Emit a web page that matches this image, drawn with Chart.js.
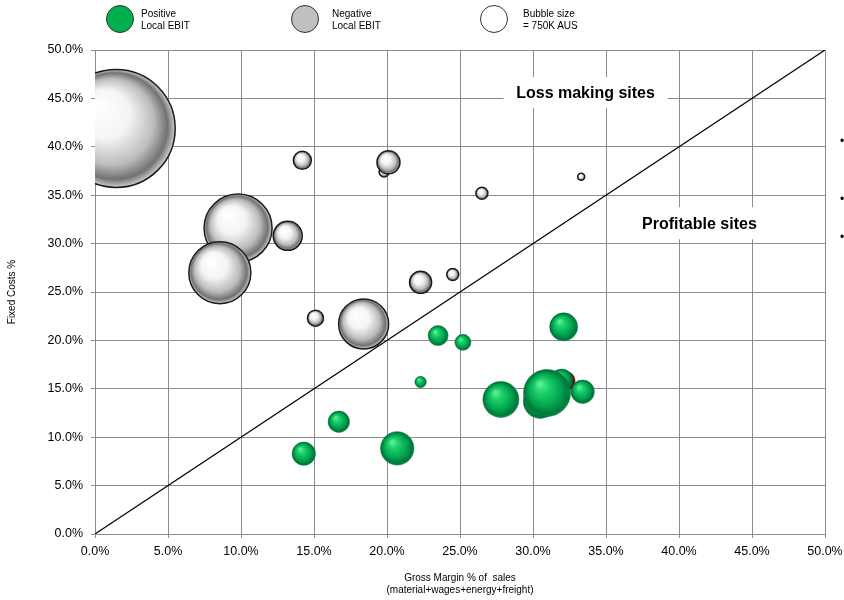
<!DOCTYPE html>
<html>
<head>
<meta charset="utf-8">
<script src="https://cdn.jsdelivr.net/npm/chart.js@4.4.1/dist/chart.umd.min.js"></script>
<style>
  html, body { margin: 0; padding: 0; background: #fff; }
  body { width: 844px; height: 600px; position: relative; overflow: hidden; font-family: "Liberation Sans", Arial, sans-serif; }
  #wrap { position: absolute; left: 0; top: 0; width: 844px; height: 600px; }
  .key { position: absolute; top: 5px; width: 28px; height: 28px; border-radius: 50%; border: 1px solid #333; box-sizing: border-box; }
  .keytext { position: absolute; top: 8px; font-size: 10px; line-height: 11.5px; color: #000; }
  .bullet { position: absolute; left: 840px; font-size: 12px; line-height: 12px; color: #000; }
</style>
</head>
<body>
<div id="wrap"><canvas id="chart" width="844" height="600"></canvas></div>

<div class="key" style="left:106px; background:#00b050;"></div>
<div class="keytext" style="left:141px;">Positive<br>Local EBIT</div>
<div class="key" style="left:291px; background:#c0c0c0;"></div>
<div class="keytext" style="left:332px;">Negative<br>Local EBIT</div>
<div class="key" style="left:480px; background:#ffffff;"></div>
<div class="keytext" style="left:523px;">Bubble size<br>= 750K AUS</div>

<div class="bullet" style="top:135px;">•</div>
<div class="bullet" style="top:193px;">•</div>
<div class="bullet" style="top:231px;">•</div>

<script>
// gross margin % (x), fixed costs % (y), bubble size
const negX = [1.45, 14.2, 19.8, 20.1, 9.8, 13.2, 8.55, 22.3, 15.1, 18.4, 26.5, 33.3, 24.5];
const negY = [41.9, 38.6, 37.4, 38.4, 31.6, 30.8, 27.0, 26.0, 22.3, 21.7, 35.2, 36.9, 26.8];
const negSize = [59, 9, 5, 11.5, 34, 14.5, 31, 11, 8, 25, 6, 3.5, 6];

const posX = [23.5, 25.2, 32.1, 22.3, 27.8, 14.3, 16.7, 20.7, 31.96, 30.5, 30.96, 33.4];
const posY = [20.5, 19.8, 21.4, 15.7, 13.9, 8.3, 11.6, 8.85, 15.9, 13.7, 14.57, 14.7];
const posSize = [10, 8, 14, 5.7, 18, 11.7, 10.7, 16.7, 11, 17, 23.5, 11.7];

const otherX = [32.2];
const otherY = [15.8];
const otherSize = [10];

const breakEven = [0, 50];
const tickValues = [0, 5, 10, 15, 20, 25, 30, 35, 40, 45, 50];

// big bubbles should not push the plot area inwards
Chart.registry.getController('bubble').prototype.getMaxOverflow = function () { return false; };

function toPoints(xs, ys, rs) {
    return xs.map((x, i) => ({ x: x, y: ys[i], r: rs[i] }));
}

function sphere(stops) {
    return (ctx) => {
        const chart = ctx.chart;
        if (ctx.type !== 'data' || !chart.chartArea) return stops[2][1];
        const x = chart.scales.x.getPixelForValue(ctx.raw.x);
        const y = chart.scales.y.getPixelForValue(ctx.raw.y);
        const r = ctx.raw.r;
        const g = chart.ctx.createRadialGradient(x - r * 0.32, y - r * 0.4, r * 0.03, x, y, r);
        stops.forEach(s => g.addColorStop(s[0], s[1]));
        return g;
    };
}

const greyBall = sphere([[0, '#ffffff'], [0.4, '#f4f4f4'], [0.72, '#bcbcbc'], [0.9, '#727272'], [1, '#cdcdcd']]);
const greenBall = sphere([[0, '#5cf29c'], [0.3, '#1ccf68'], [0.7, '#00a24e'], [0.92, '#00773a'], [1, '#009a48']]);
const redBall = sphere([[0, '#d04040'], [0.6, '#8a1515'], [1, '#5a0808']]);

// text boxes on the plot
const zoneLabels = [
    { text: 'Loss making sites', x: 33.6, y: 45.6, w: 164, h: 31 },
    { text: 'Profitable sites', x: 41.4, y: 32.1, w: 150, h: 32 }
];

const zonePlugin = {
    id: 'zones',
    beforeDatasetsDraw(chart) {
        const c = chart.ctx;
        c.save();
        zoneLabels.forEach(z => {
            const px = chart.scales.x.getPixelForValue(z.x);
            const py = chart.scales.y.getPixelForValue(z.y);
            c.fillStyle = '#ffffff';
            c.fillRect(px - z.w / 2, py - z.h / 2, z.w, z.h);
            c.fillStyle = '#000';
            c.font = 'bold 16px "Liberation Sans", Arial, sans-serif';
            c.textAlign = 'center';
            c.textBaseline = 'middle';
            c.fillText(z.text, px, py + 1);
        });
        c.restore();
    }
};

const gridColor = '#8c8c8c';
const tickFont = { family: '"Liberation Sans", Arial, sans-serif', size: 12.5 };

new Chart(document.getElementById('chart'), {
    type: 'bubble',
    data: {
        datasets: [
            {
                label: 'Positive Local EBIT',
                data: toPoints(posX, posY, posSize),
                backgroundColor: greenBall,
                borderColor: '#00582a',
                borderWidth: 0.5,
                clip: 0,
                order: 1
            },
            {
                label: 'Other',
                data: toPoints(otherX, otherY, otherSize),
                backgroundColor: redBall,
                borderColor: '#400000',
                borderWidth: 0.5,
                clip: 0,
                order: 2
            },
            {
                label: 'Negative Local EBIT',
                data: toPoints(negX, negY, negSize),
                backgroundColor: greyBall,
                borderColor: '#1a1a1a',
                borderWidth: 1.5,
                clip: 0,
                order: 3
            },
            {
                type: 'line',
                label: 'Break even',
                data: breakEven.map(v => ({ x: v, y: v })),
                borderColor: '#000',
                borderWidth: 1.2,
                pointRadius: 0,
                fill: false,
                order: 4
            }
        ]
    },
    options: {
        responsive: false,
        animation: false,
        events: [],
        layout: { padding: { top: 50, right: 19, left: 0, bottom: 0 } },
        plugins: { legend: { display: false }, tooltip: { enabled: false } },
        scales: {
            x: {
                type: 'linear',
                min: 0,
                max: 50,
                afterBuildTicks: s => { s.ticks = tickValues.map(v => ({ value: v })); },
                afterFit: s => { s.height = 66; s.paddingLeft = 0; s.paddingRight = 0; },
                grid: { color: gridColor, tickLength: 4 },
                border: { color: gridColor },
                ticks: { color: '#000', font: tickFont, padding: 6, autoSkip: false, maxRotation: 0, callback: v => v.toFixed(1) + '%' },
                title: {
                    display: true,
                    text: ['Gross Margin % of  sales', '(material+wages+energy+freight)'],
                    color: '#000',
                    font: { family: '"Liberation Sans", Arial, sans-serif', size: 10, lineHeight: 1.2 },
                    padding: { top: 0, bottom: 4 }
                }
            },
            y: {
                type: 'linear',
                min: 0,
                max: 50,
                afterBuildTicks: s => { s.ticks = tickValues.map(v => ({ value: v })); },
                afterFit: s => { s.width = 95; s.paddingTop = 0; s.paddingBottom = 0; },
                grid: { color: gridColor, tickLength: 4 },
                border: { color: gridColor },
                ticks: { color: '#000', font: tickFont, padding: 8, callback: v => v.toFixed(1) + '%' },
                title: {
                    display: true,
                    text: 'Fixed Costs %',
                    color: '#000',
                    font: { family: '"Liberation Sans", Arial, sans-serif', size: 10, lineHeight: 1.2 },
                    padding: { top: 6, bottom: 0 }
                }
            }
        }
    },
    plugins: [zonePlugin]
});
</script>
</body>
</html>
